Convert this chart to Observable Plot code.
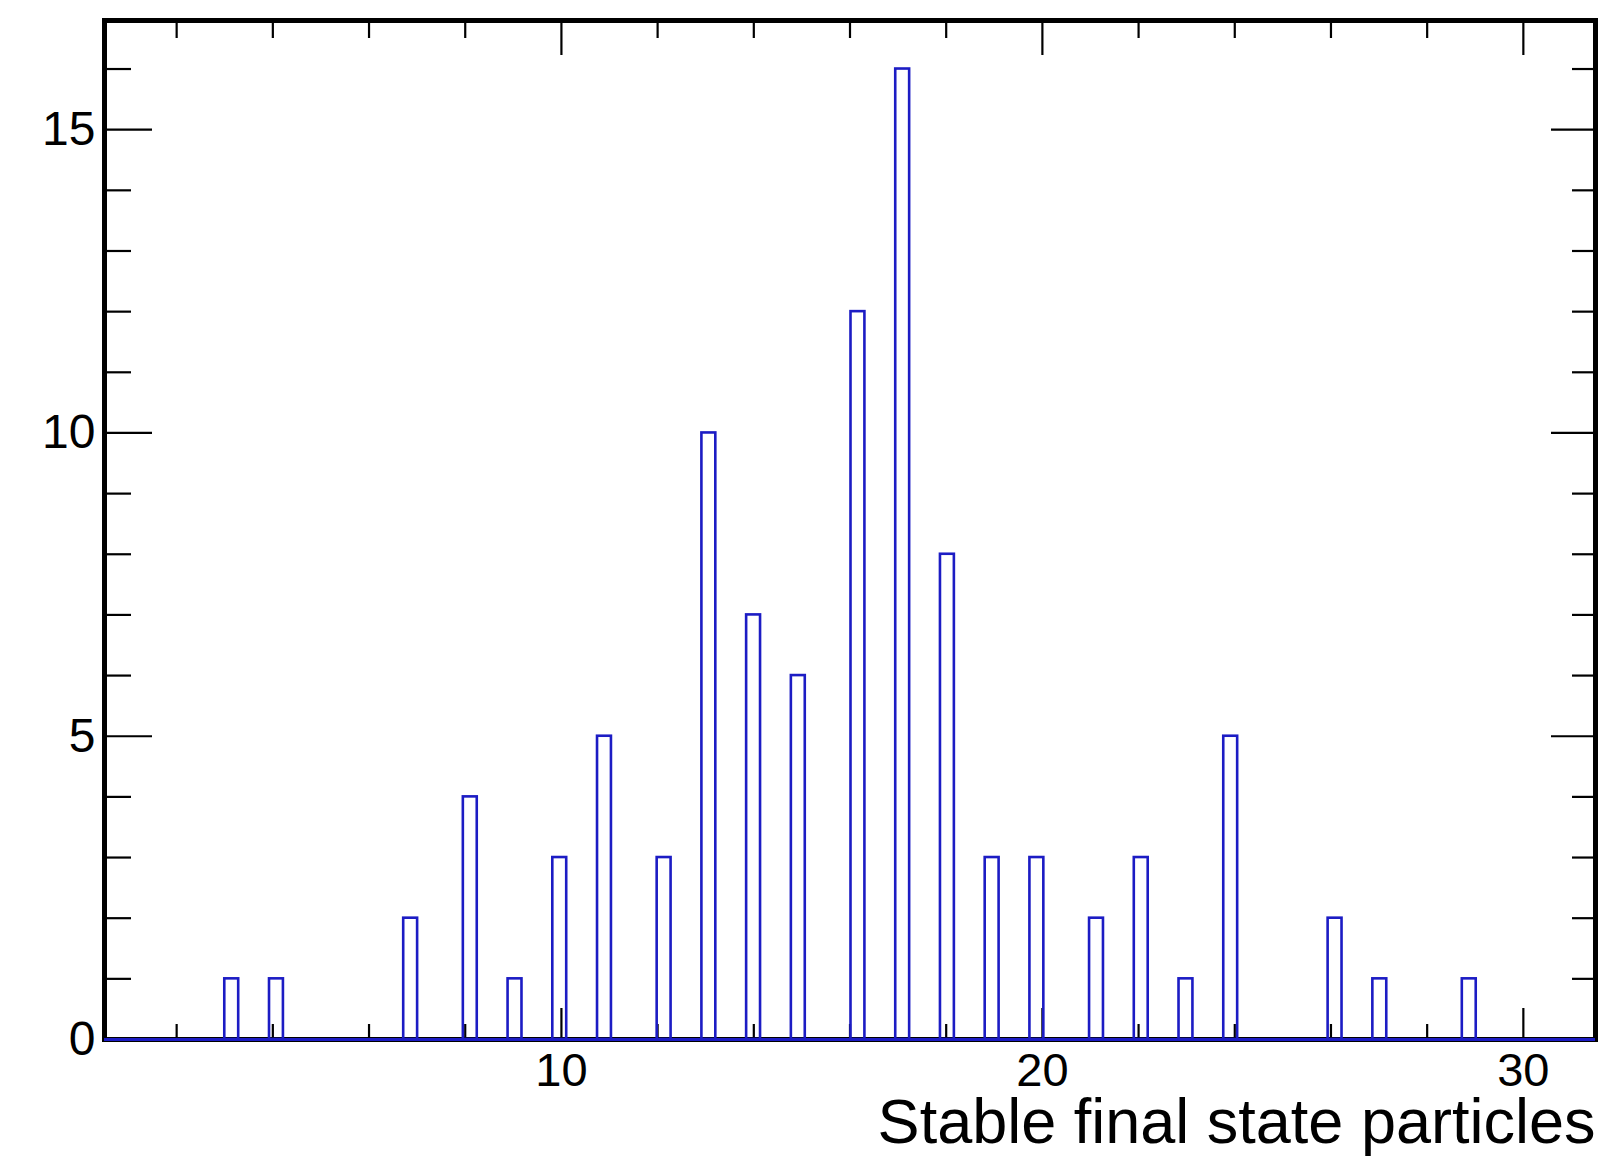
<!DOCTYPE html>
<html>
<head>
<meta charset="utf-8">
<script src="https://cdn.jsdelivr.net/npm/d3@7"></script>
<script src="https://cdn.jsdelivr.net/npm/@observablehq/plot@0.6"></script>
<style>
  html, body { margin: 0; padding: 0; background: #ffffff; overflow: hidden; }
  #chart svg { display: block; }
</style>
</head>
<body>
<div id="chart"></div>
<script>
// ---- Data ----
const particleCounts = [3, 4, 7, 8, 9, 10, 11, 12, 13, 14, 15, 16, 17, 18, 19, 20, 21, 22, 23, 24, 26, 27, 29];
const entries        = [1, 1, 2, 4, 1, 3, 5, 3, 10, 7, 6, 12, 16, 8, 3, 3, 2, 3, 1, 5, 2, 1, 1];

// histogram binning (ROOT TH1: 100 bins from 0.5 to 31.5)
const nBins = 100;
const xMin = 0.5;
const xMax = 31.5;
const yMax = 16.8;

// tick values
const xMajorTicks = [10, 20, 30];
const xMinorTicks = [2, 4, 6, 8, 12, 14, 16, 18, 22, 24, 26, 28];
const yMajorTicks = [0, 5, 10, 15];
const yMinorTicks = [1, 2, 3, 4, 6, 7, 8, 9, 11, 12, 13, 14, 16];
const xTitle = "Stable final state particles";

// ---- build table ----
const data = particleCounts.map((v, i) => ({value: v, count: entries[i]}));
const thresholds = d3.range(nBins + 1).map(i => xMin + i * (xMax - xMin) / nBins);

const W = 1619, H = 1157;
const mL = 104, mR = 24, mT = 20, mB = 118;
const pw = W - mL - mR, ph = H - mT - mB;
const blue = "#1c1cc4";
const tickW = 2.2;
const fmt = d3.format("d");

const chart = Plot.plot({
  width: W,
  height: H,
  marginLeft: mL, marginRight: mR, marginTop: mT, marginBottom: mB,
  style: {fontFamily: "'Liberation Sans', Arial, Helvetica, sans-serif", background: "#ffffff", color: "#000"},
  x: {domain: [xMin, xMax], axis: null},
  y: {domain: [0, yMax], axis: null},
  marks: [
    Plot.frame({stroke: "#000", strokeWidth: 5}),
    // left ticks
    Plot.ruleY(yMinorTicks, {insetRight: pw - 27, stroke: "#000", strokeWidth: tickW}),
    Plot.ruleY(yMajorTicks, {insetRight: pw - 48, stroke: "#000", strokeWidth: tickW}),
    // right ticks
    Plot.ruleY(yMinorTicks, {insetLeft: pw - 23, stroke: "#000", strokeWidth: tickW}),
    Plot.ruleY(yMajorTicks, {insetLeft: pw - 44, stroke: "#000", strokeWidth: tickW}),
    // bottom ticks
    Plot.ruleX(xMinorTicks, {insetTop: ph - 15, stroke: "#000", strokeWidth: tickW}),
    Plot.ruleX(xMajorTicks, {insetTop: ph - 31, stroke: "#000", strokeWidth: tickW}),
    // top ticks
    Plot.ruleX(xMinorTicks, {insetBottom: ph - 18, stroke: "#000", strokeWidth: tickW}),
    Plot.ruleX(xMajorTicks, {insetBottom: ph - 35, stroke: "#000", strokeWidth: tickW}),
    // histogram outline
    Plot.ruleY([0], {stroke: blue, strokeWidth: 3}),
    Plot.rectY(data, Plot.binX({y: "sum"}, {
      x: "value", y: "count", thresholds,
      fill: "none", stroke: blue, strokeWidth: 2.6
    })),
    // axis labels
    Plot.axisY(yMajorTicks, {anchor: "left", tickSize: 0, tickPadding: 9, fontSize: 48, tickFormat: fmt, label: null}),
    Plot.axisX(xMajorTicks, {anchor: "bottom", tickSize: 0, tickPadding: 13, fontSize: 47, tickFormat: fmt, label: null}),
    Plot.text([xTitle], {frameAnchor: "bottom-right", textAnchor: "end", lineAnchor: "bottom", dy: 103, fontSize: 63, fill: "#000"})
  ]
});
document.getElementById("chart").appendChild(chart);
</script>
</body>
</html>
